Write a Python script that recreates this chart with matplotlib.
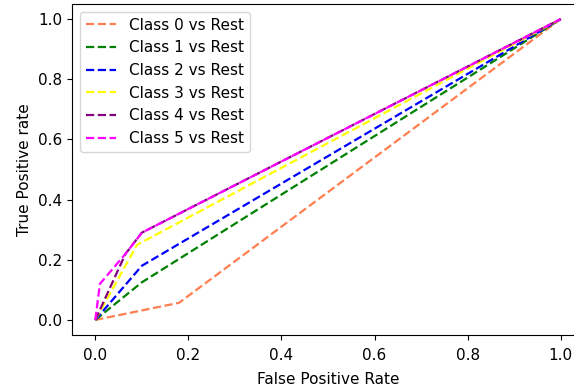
import matplotlib
matplotlib.use('Agg')
import matplotlib.pyplot as plt

# roc points (fpr, tpr) per class
fpr0 = [0.0, 0.18, 1.0]
tpr0 = [0.0, 0.057, 1.0]
fpr1 = [0.0, 0.1, 1.0]
tpr1 = [0.0, 0.125, 1.0]
fpr2 = [0.0, 0.1, 1.0]
tpr2 = [0.0, 0.18, 1.0]
fpr3 = [0.0, 0.09, 1.0]
tpr3 = [0.0, 0.25, 1.0]
fpr4 = [0.0, 0.065, 0.1, 1.0]
tpr4 = [0.0, 0.22, 0.29, 1.0]
fpr5 = [0.0, 0.01, 0.065, 0.1, 1.0]
tpr5 = [0.0, 0.12, 0.22, 0.29, 1.0]

labels = ['Class 0 vs Rest', 'Class 1 vs Rest', 'Class 2 vs Rest',
          'Class 3 vs Rest', 'Class 4 vs Rest', 'Class 5 vs Rest']
colors = ['coral', 'green', 'blue', 'yellow', 'purple', 'magenta']

plt.rcParams['font.size'] = 11

fig = plt.figure(figsize=(5.74, 3.9), dpi=100)
# axes runs past the right edge like the cropped original
ax = fig.add_axes([72/574, 55/390, 512/574, 331/390])

curves = [(fpr0, tpr0), (fpr1, tpr1), (fpr2, tpr2),
          (fpr3, tpr3), (fpr4, tpr4), (fpr5, tpr5)]
for (f, t), c, lab in zip(curves, colors, labels):
    ax.plot(f, t, linestyle='--', color=c, label=lab, linewidth=1.6)

ax.tick_params(axis='x', pad=6)
ax.set_xlabel('False Positive Rate', labelpad=6)
ax.set_ylabel('True Positive rate')
ax.legend(loc='upper left')

fig.savefig('out.png', dpi=100)
